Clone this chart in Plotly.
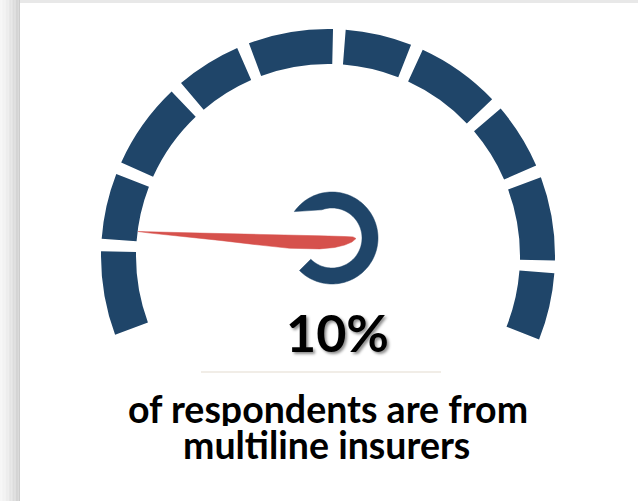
import numpy as np
import plotly.graph_objects as go

# ---------------- data ----------------
band_edges = [0, 10.4, 19.4, 30.8, 39.8, 51.0, 60.1, 71.3, 80.4, 91.5, 100]
gauge_min, gauge_max = 0, 100
value = 10
value_label = "10%"
subtitle_lines = ["of respondents are from", "multiline insurers"]

# ---------------- style / layout ----------------
W, H = 638, 501
NAVY = "#1f4569"
RED = "#d6514c"
START_DEG, END_DEG = 200.3, -21.6
GAP_DEG = 3.2
R_IN, R_OUT = 192, 227
MAIN_CX, MAIN_CY, MAIN_R = 328, 256, 230
PIV_X, PIV_Y, RING_RANGE = 332, 238, 50
RING_OUT, RING_IN = 46, 30


def to_angle(v):
    return START_DEG + (END_DEG - START_DEG) * (v - gauge_min) / (gauge_max - gauge_min)


def dom(cx, cy, r):
    return dict(x=[(cx - r) / W, (cx + r) / W], y=[(H - cy - r) / H, (H - cy + r) / H])


thetas, widths = [], []
n = len(band_edges) - 1
for i in range(n):
    a0, a1 = to_angle(band_edges[i]), to_angle(band_edges[i + 1])
    if i > 0:
        a0 -= GAP_DEG / 2
    if i < n - 1:
        a1 += GAP_DEG / 2
    thetas.append((a0 + a1) / 2)
    widths.append(a0 - a1)

fig = go.Figure()
fig.add_trace(go.Barpolar(
    theta=thetas, width=widths, r=[R_OUT - R_IN] * n, base=[R_IN] * n,
    marker=dict(color=NAVY, line=dict(width=0)), subplot="polar", hoverinfo="skip"))

# needle template (pointing to 180 deg, relative to pivot, y up)
needle_tpl = [(-194, 0.1), (-132, 0.6), (-72, 1.2), (-12, 1.8), (13, 1.9), (21, 1.8),
              (24, 0.2), (20, -3.4), (13, -6.6), (3, -9.4), (-12, -11.3), (-42, -11.7),
              (-72, -9.5), (-112, -6.1), (-152, -3.2), (-182, -1.1), (-194, 0.1)]
rot = np.radians(to_angle(value) - 180)
nr, nt = [], []
for u, v in needle_tpl:
    x = u * np.cos(rot) - v * np.sin(rot) + (PIV_X - MAIN_CX)
    y = u * np.sin(rot) + v * np.cos(rot) + (MAIN_CY - PIV_Y)
    nr.append(float(np.hypot(x, y)))
    nt.append(float(np.degrees(np.arctan2(y, x))))
fig.add_trace(go.Scatterpolar(r=nr, theta=nt, mode="lines", fill="toself",
                              fillcolor=RED, line=dict(color=RED, width=0.5),
                              subplot="polar", hoverinfo="skip"))

# pivot ring
outer_t = np.linspace(145, -135, 120)
inner_t = np.linspace(-135, 110, 100)
ring_t = list(outer_t) + list(inner_t) + [145]
ring_r = [RING_OUT] * len(outer_t) + [RING_IN] * len(inner_t) + [RING_OUT]
fig.add_trace(go.Scatterpolar(r=ring_r, theta=ring_t, mode="lines", fill="toself",
                              fillcolor=NAVY, line=dict(color=NAVY, width=0.5),
                              subplot="polar2", hoverinfo="skip"))

axis_off = dict(visible=False, showgrid=False, showline=False, showticklabels=False, ticks="")
fig.update_layout(
    width=W, height=H, margin=dict(l=0, r=0, t=0, b=0),
    paper_bgcolor="white", showlegend=False,
    polar=dict(domain=dom(MAIN_CX, MAIN_CY, MAIN_R), bgcolor="rgba(0,0,0,0)",
               radialaxis=dict(range=[0, MAIN_R], **axis_off),
               angularaxis=dict(rotation=0, direction="counterclockwise", **axis_off)),
    polar2=dict(domain=dom(PIV_X, PIV_Y, RING_RANGE), bgcolor="rgba(0,0,0,0)",
                radialaxis=dict(range=[0, RING_RANGE], **axis_off),
                angularaxis=dict(rotation=0, direction="counterclockwise", **axis_off)),
)

# panel shadow (left & top)
shapes = []
left_levels = [246, 244, 242, 240, 237, 234, 231, 228, 224, 220, 216, 212, 208, 204]
sw = 20 / len(left_levels)
for i, g in enumerate(left_levels):
    shapes.append(dict(type="rect", xref="paper", yref="paper",
                       x0=i * sw / W, x1=(i + 1) * sw / W, y0=0, y1=1,
                       fillcolor=f"rgb({g},{g},{g})", line=dict(width=0), layer="below"))
shapes.append(dict(type="rect", xref="paper", yref="paper", x0=20 / W, x1=1,
                   y0=(H - 3) / H, y1=1, fillcolor="rgb(232,232,232)",
                   line=dict(width=0), layer="below"))
shapes.append(dict(type="line", xref="paper", yref="paper", x0=201 / W, x1=441 / W,
                   y0=(H - 372) / H, y1=(H - 372) / H,
                   line=dict(color="#e4dccf", width=1.2)))
fig.update_layout(shapes=shapes)

fig.add_annotation(x=337.5 / W, y=(H - 332) / H, xref="paper", yref="paper",
                   text=value_label, showarrow=False, xanchor="center", yanchor="middle",
                   font=dict(family="Lato", size=52, color="black", weight="bold",
                             shadow="2px 2px 3px rgba(0,0,0,0.45)"))
fig.add_annotation(x=328 / W, y=(H - 408) / H, xref="paper", yref="paper",
                   text=subtitle_lines[0], showarrow=False, xanchor="center", yanchor="middle",
                   height=35,
                   font=dict(family="Lato", size=37.5, color="black", weight="bold"))
fig.add_annotation(x=326 / W, y=(H - 444.5) / H, xref="paper", yref="paper",
                   text=subtitle_lines[1], showarrow=False, xanchor="center", yanchor="middle",
                   height=35,
                   font=dict(family="Lato", size=37.5, color="black", weight="bold"))

fig.write_html("out.html", config={"displayModeBar": False},
               post_script="document.body.style.margin='0px';")
